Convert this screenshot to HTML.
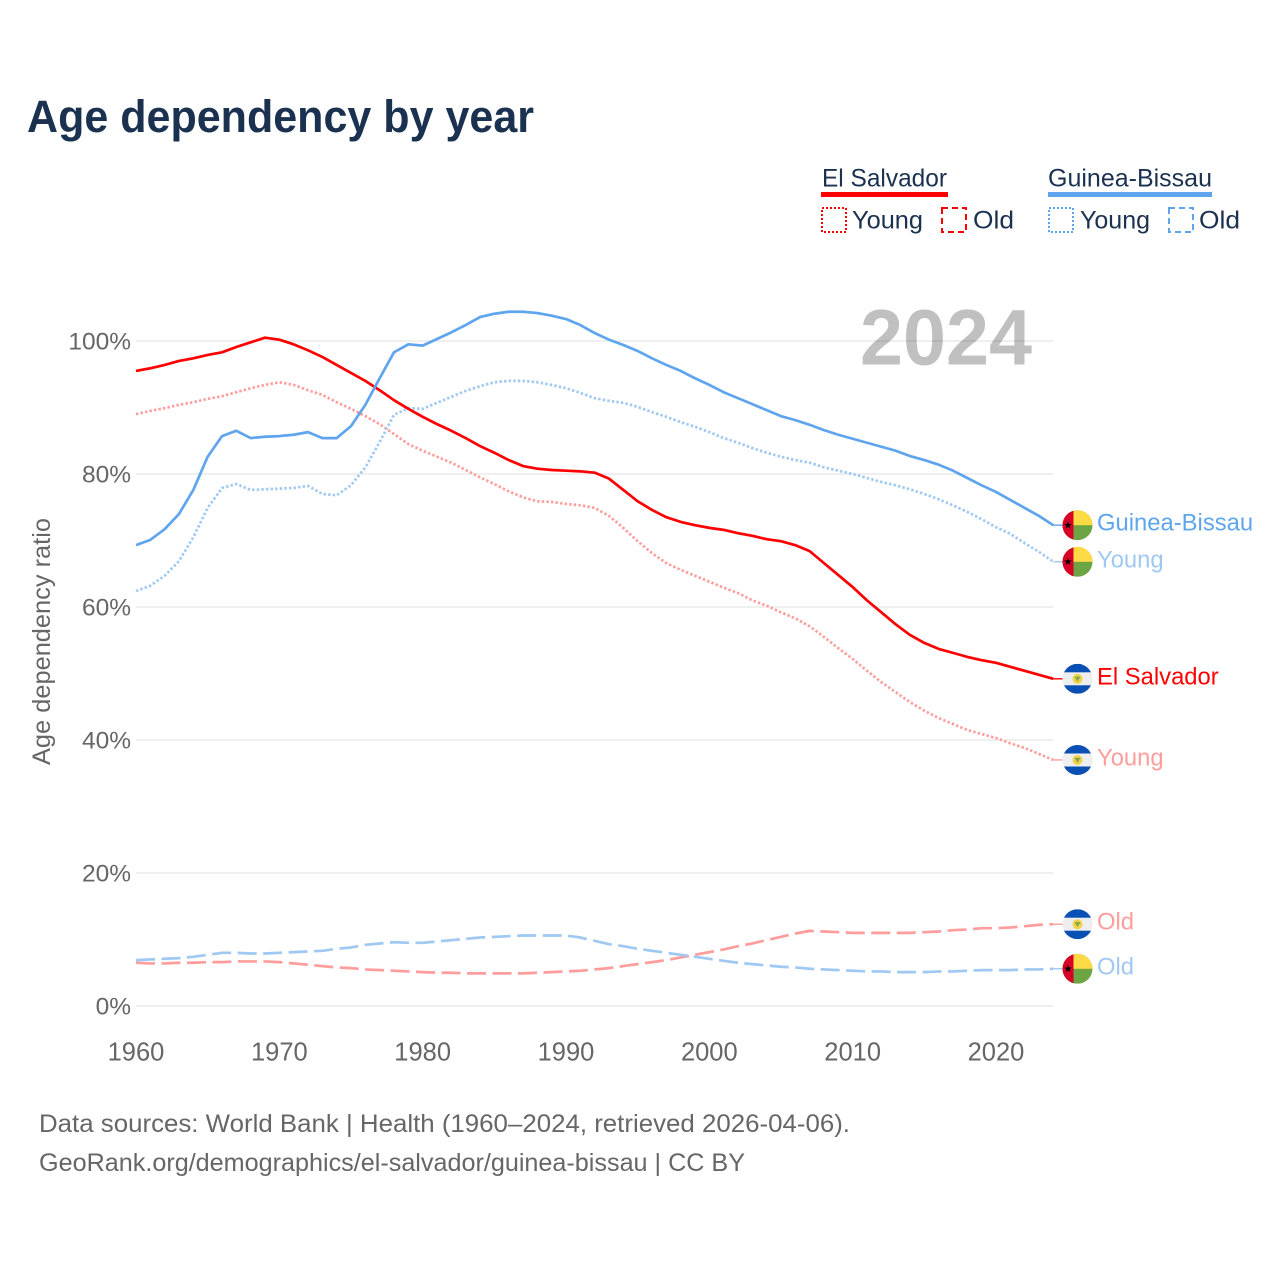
<!DOCTYPE html>
<html lang="en">
<head>
<meta charset="utf-8">
<title>Age dependency by year</title>
<style>
html,body{margin:0;padding:0;background:#fff;width:1280px;height:1280px;overflow:hidden}
svg{display:block}
text{font-family:"Liberation Sans",sans-serif}
</style>
</head>
<body>
<svg id="chart" xmlns="http://www.w3.org/2000/svg" width="1280" height="1280" viewBox="0 0 1280 1280">
  <rect width="1280" height="1280" fill="#fff"/>
  <text x="27" y="132" font-size="45" font-weight="700" fill="#1a3150" textLength="507" lengthAdjust="spacingAndGlyphs">Age dependency by year</text>

  <g font-size="25" fill="#1a3150">
    <text x="822" y="186.5" textLength="125" lengthAdjust="spacingAndGlyphs">El Salvador</text>
    <rect x="821" y="192" width="127" height="5" fill="#ff0000"/>
    <rect x="822" y="208" width="24" height="24" fill="none" stroke="#ff0000" stroke-width="2" stroke-dasharray="2 2"/>
    <text x="852" y="228.5" textLength="71" lengthAdjust="spacingAndGlyphs">Young</text>
    <rect x="942" y="208" width="24" height="24" fill="none" stroke="#ff0000" stroke-width="2" stroke-dasharray="6 4"/>
    <text x="973" y="228.5" textLength="41" lengthAdjust="spacingAndGlyphs">Old</text>
    <text x="1048" y="186.5" textLength="164" lengthAdjust="spacingAndGlyphs">Guinea-Bissau</text>
    <rect x="1048" y="192" width="164" height="5" fill="#5fa5ee"/>
    <rect x="1049" y="208" width="24" height="24" fill="none" stroke="#5fa5ee" stroke-width="2" stroke-dasharray="2 2"/>
    <text x="1080" y="228.5" textLength="70" lengthAdjust="spacingAndGlyphs">Young</text>
    <rect x="1169" y="208" width="24" height="24" fill="none" stroke="#5fa5ee" stroke-width="2" stroke-dasharray="6 4"/>
    <text x="1199" y="228.5" textLength="41" lengthAdjust="spacingAndGlyphs">Old</text>
  </g>

  <text transform="translate(50,765) rotate(-90)" x="0" y="0" font-size="25" fill="#666" textLength="247" lengthAdjust="spacingAndGlyphs">Age dependency ratio</text>

  <text x="860" y="364.5" font-size="79" font-weight="700" fill="#c0c0c0" textLength="172" lengthAdjust="spacingAndGlyphs">2024</text>

  <g id="grid"></g>
  <g id="yticks"></g>
  <g id="xticks"></g>

  <g id="series"></g>
  <g id="endlabels"></g>

  <text x="39" y="1132" font-size="25" fill="#666" textLength="811" lengthAdjust="spacingAndGlyphs">Data sources: World Bank | Health (1960–2024, retrieved 2026-04-06).</text>
  <text x="39" y="1171" font-size="25" fill="#666" textLength="706" lengthAdjust="spacingAndGlyphs">GeoRank.org/demographics/el-salvador/guinea-bissau | CC BY</text>
</svg>

<script>
const firstYear = 1960;
const xTickLabels = [1960, 1970, 1980, 1990, 2000, 2010, 2020];
const yTickLabels = [0, 20, 40, 60, 80, 100];

const guineaBissauTotal = [69.3,70.1,71.7,74,77.6,82.6,85.7,86.5,85.4,85.6,85.7,85.9,86.3,85.4,85.4,87.2,90.4,94.4,98.3,99.5,99.3,100.3,101.3,102.4,103.6,104.1,104.4,104.4,104.2,103.8,103.3,102.4,101.2,100.2,99.4,98.5,97.4,96.4,95.5,94.4,93.4,92.3,91.4,90.5,89.6,88.7,88.1,87.4,86.6,85.9,85.3,84.7,84.1,83.5,82.7,82.1,81.4,80.5,79.4,78.3,77.3,76.1,74.9,73.7,72.3];
const guineaBissauYoung = [62.4,63.2,64.7,66.9,70.5,74.9,77.9,78.5,77.6,77.7,77.8,77.9,78.2,77,76.8,78.3,81,84.8,88.9,89.9,89.8,90.7,91.6,92.5,93.2,93.8,94,94,93.8,93.4,92.9,92.2,91.4,91,90.7,90.1,89.3,88.6,87.8,87.1,86.3,85.4,84.7,83.9,83.2,82.6,82.1,81.7,81,80.5,80,79.4,78.8,78.3,77.7,77,76.2,75.3,74.3,73.2,72,71,69.6,68.3,66.8];
const guineaBissauOld = [6.9,7,7.1,7.2,7.4,7.7,8,8,7.9,7.9,8,8.1,8.2,8.3,8.6,8.8,9.2,9.4,9.6,9.5,9.5,9.7,9.9,10.1,10.3,10.4,10.5,10.6,10.6,10.6,10.6,10.3,9.8,9.3,9,8.6,8.3,8,7.7,7.4,7.1,6.8,6.5,6.3,6.1,5.9,5.8,5.6,5.5,5.4,5.3,5.2,5.2,5.1,5.1,5.1,5.2,5.2,5.3,5.4,5.4,5.4,5.5,5.5,5.6];
const elSalvadorTotal = [95.5,95.9,96.4,97,97.4,97.9,98.3,99.1,99.8,100.5,100.2,99.5,98.6,97.6,96.4,95.2,94,92.6,91.1,89.8,88.6,87.5,86.5,85.4,84.2,83.2,82.1,81.2,80.8,80.6,80.5,80.4,80.2,79.3,77.6,75.9,74.6,73.5,72.8,72.3,71.9,71.6,71.1,70.7,70.2,69.9,69.3,68.4,66.6,64.8,63,61,59.2,57.4,55.8,54.6,53.7,53.1,52.5,52,51.6,51,50.4,49.8,49.2];
const elSalvadorYoung = [89,89.5,89.9,90.4,90.8,91.3,91.7,92.3,92.9,93.4,93.8,93.4,92.6,91.9,90.8,89.8,88.7,87.5,86,84.5,83.5,82.6,81.7,80.6,79.5,78.5,77.4,76.5,75.9,75.8,75.5,75.3,74.9,73.7,71.9,69.9,68.1,66.6,65.6,64.7,63.8,62.9,62.1,61,60.2,59.2,58.3,57.1,55.5,53.8,52.2,50.4,48.7,47.2,45.7,44.4,43.3,42.4,41.5,40.9,40.3,39.5,38.8,37.9,37];
const elSalvadorOld = [6.5,6.4,6.4,6.5,6.5,6.6,6.6,6.7,6.7,6.7,6.6,6.4,6.2,6,5.8,5.7,5.5,5.4,5.3,5.2,5.1,5,5,4.9,4.9,4.9,4.9,4.9,5,5.1,5.2,5.3,5.5,5.7,6,6.3,6.6,6.9,7.3,7.7,8.1,8.5,9,9.4,9.9,10.4,10.9,11.3,11.2,11.1,11,11,11,11,11,11.1,11.2,11.4,11.5,11.7,11.7,11.8,12,12.2,12.3];

const NS = 'http://www.w3.org/2000/svg';
const xScale = year => 136 + (year - 1960) * 14.333;
const yScale = pct => 1006 - pct * 6.65;

function el(tag, attrs, parent) {
  const node = document.createElementNS(NS, tag);
  for (const k in attrs) node.setAttribute(k, attrs[k]);
  parent.appendChild(node);
  return node;
}

const gridG = document.getElementById('grid');
const yG = document.getElementById('yticks');
const xG = document.getElementById('xticks');

yTickLabels.forEach(v => {
  const line = el('line', {x1: 136, x2: 1053, y1: yScale(v), y2: yScale(v), stroke: '#000', 'stroke-opacity': 0.1, 'stroke-width': 1.2}, gridG);
  
  
  const label = el('text', {x: 131, y: yScale(v) + 8.5, 'text-anchor': 'end', 'font-size': 24.5, fill: '#666'}, yG);
  
  
  label.textContent = v + '%';
});

xTickLabels.forEach(y => {
  const label = el('text', {x: xScale(y), y: 1060.5, 'text-anchor': 'middle', 'font-size': 25.5, fill: '#666'}, xG);
  
  
  label.textContent = y;
});

const RED = '#ff0000', BLUE = '#5fa5ee', LRED = '#ff9d9d', LBLUE = '#9fc8f2';
const DOT = '2.4 2.2', DASH = '19 6.5';
const seriesList = [
  {key: 'el-salvador-old', values: elSalvadorOld, color: LRED, dash: DASH, label: 'Old', flag: 'sv', labelColor: LRED},
  {key: 'guinea-bissau-old', values: guineaBissauOld, color: LBLUE, dash: DASH, label: 'Old', flag: 'gw', labelColor: LBLUE},
  {key: 'el-salvador-young', values: elSalvadorYoung, color: LRED, dash: DOT, label: 'Young', flag: 'sv', labelColor: LRED},
  {key: 'guinea-bissau-young', values: guineaBissauYoung, color: LBLUE, dash: DOT, label: 'Young', flag: 'gw', labelColor: LBLUE},
  {key: 'el-salvador-total', values: elSalvadorTotal, color: RED, dash: '', label: 'El Salvador', flag: 'sv', labelColor: RED},
  {key: 'guinea-bissau-total', values: guineaBissauTotal, color: BLUE, dash: '', label: 'Guinea-Bissau', flag: 'gw', labelColor: BLUE}
];

const defs = el('defs', {}, document.getElementById('chart'));
const clip = el('clipPath', {id: 'flag-clip'}, defs);
el('circle', {cx: 0, cy: 0, r: 15}, clip);

function drawFlag(parent, kind) {
  const g = el('g', {'clip-path': 'url(#flag-clip)'}, parent);
  if (kind === 'sv') {
    el('rect', {x: -15, y: -15, width: 30, height: 30, fill: '#eeeeee'}, g);
    el('rect', {x: -15, y: -15, width: 30, height: 8.5, fill: '#0a50b4'}, g);
    el('rect', {x: -15, y: 6.5, width: 30, height: 8.5, fill: '#0a50b4'}, g);
    el('circle', {cx: 0, cy: 0, r: 5, fill: '#f0d24a'}, g);
    el('path', {d: 'M-3 -2.2 L3 -2.2 L0 2.8 Z', fill: '#7fa84a'}, g);
  } else {
    el('rect', {x: -15, y: -15, width: 30, height: 30, fill: '#6da544'}, g);
    el('rect', {x: -15, y: -15, width: 30, height: 15, fill: '#ffda44'}, g);
    el('rect', {x: -15, y: -15, width: 11, height: 30, fill: '#d80027'}, g);
    const pts = [];
    for (let i = 0; i < 10; i++) {
      const r = i % 2 ? 1.6 : 4;
      const a = -Math.PI / 2 + i * Math.PI / 5;
      pts.push((-9.5 + r * Math.cos(a)).toFixed(2) + ',' + (r * Math.sin(a)).toFixed(2));
    }
    el('polygon', {points: pts.join(' '), fill: '#000'}, g);
  }
}

const seriesG = document.getElementById('series');
const labelsG = document.getElementById('endlabels');

seriesList.forEach(s => {
  const d = s.values.map((v, i) => (i ? 'L' : 'M') + xScale(firstYear + i).toFixed(2) + ' ' + yScale(v).toFixed(2)).join(' ');
  const attrs = {d: d, fill: 'none', stroke: s.color, 'stroke-width': 2.7, 'stroke-linejoin': 'round'};
  if (s.dash) attrs['stroke-dasharray'] = s.dash;
  const path = el('path', attrs, seriesG);
  
  
});

const endItems = seriesList.map(s => ({s: s, y: yScale(s.values[s.values.length - 1]), fy: 0}));
endItems.sort((a, b) => a.y - b.y);
let prevY = -Infinity;
endItems.forEach(item => {
  item.fy = Math.max(item.y, prevY + 36);
  prevY = item.fy;
});

endItems.forEach(item => {
  const s = item.s;
  const lastX = xScale(firstYear + s.values.length - 1);
  const connector = el('line', {x1: lastX, y1: item.y, x2: 1063, y2: item.fy, stroke: s.color, 'stroke-width': 1.4}, labelsG);
  
  
  const flag = el('g', {transform: 'translate(1077.5,' + item.fy.toFixed(1) + ')'}, labelsG);
  
  
  drawFlag(flag, s.flag);
  const text = el('text', {x: 1097, y: (item.fy + 5.5).toFixed(1), 'font-size': 23.8, fill: s.labelColor}, labelsG);
  
  
  text.textContent = s.label;
});
</script>
</body>
</html>
